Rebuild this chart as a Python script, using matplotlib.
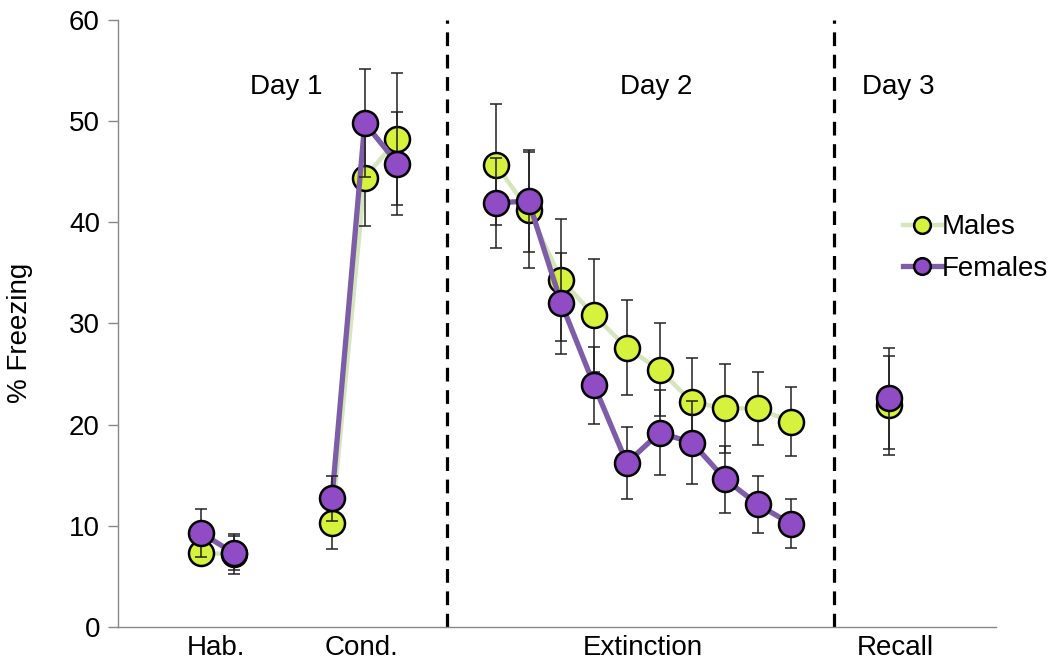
import numpy as np
import matplotlib
matplotlib.use("Agg")
import matplotlib.pyplot as plt
from matplotlib.lines import Line2D

plt.rcParams['font.family'] = ['Liberation Sans', 'DejaVu Sans']

# Trial positions (category slots) for each phase
hab_x = [0, 1]
cond_x = [4, 5, 6]
ext_x = [9, 10, 11, 12, 13, 14, 15, 16, 17, 18]
recall_x = [21]

# % Freezing, males
male_hab = [7.3, 7.2]
male_cond = [10.3, 44.4, 48.2]
male_ext = [45.7, 41.2, 34.3, 30.8, 27.6, 25.4, 22.2, 21.6, 21.6, 20.3]
male_recall = [21.9]
male_hab_err = [1.0, 2.0]
male_cond_err = [2.6, 4.8, 6.5]
male_ext_err = [6.0, 5.7, 6.0, 5.6, 4.7, 4.6, 4.4, 4.4, 3.6, 3.4]
male_recall_err = [4.9]

# % Freezing, females
fem_hab = [9.3, 7.3]
fem_cond = [12.7, 49.8, 45.8]
fem_ext = [41.9, 42.1, 32.0, 23.9, 16.2, 19.2, 18.2, 14.6, 12.1, 10.2]
fem_recall = [22.6]
fem_hab_err = [2.4, 1.7]
fem_cond_err = [2.2, 5.3, 5.1]
fem_ext_err = [4.4, 5.0, 5.0, 3.8, 3.6, 4.2, 4.1, 3.3, 2.8, 2.4]
fem_recall_err = [5.0]

phase_labels = ["Hab.", "Cond.", "Extinction", "Recall"]
phase_label_x = [0.45, 4.9, 13.5, 21.2]
day_labels = ["Day 1", "Day 2", "Day 3"]
day_label_x = [2.6, 13.9, 21.3]
divider_x = [7.52, 19.33]

male_fill = "#d6f23c"
male_line = "#d6e6bc"
fem_fill = "#8f4cc4"
fem_line = "#7d5ca8"

fs = 20

fig = plt.figure(figsize=(10.54, 6.62), dpi=100)
ax = fig.add_axes([0.112, 0.053, 0.833, 0.917])

segments_m = [(hab_x, male_hab, male_hab_err), (cond_x, male_cond, male_cond_err),
              (ext_x, male_ext, male_ext_err), (recall_x, male_recall, male_recall_err)]
segments_f = [(hab_x, fem_hab, fem_hab_err), (cond_x, fem_cond, fem_cond_err),
              (ext_x, fem_ext, fem_ext_err), (recall_x, fem_recall, fem_recall_err)]

ms = 18
for segs, lc, fc, z in [(segments_m, male_line, male_fill, 3), (segments_f, fem_line, fem_fill, 6)]:
    for xs, ys, es in segs:
        ax.plot(xs, ys, color=lc, lw=3.2 if fc == male_fill else 3.8, zorder=z, solid_capstyle='round')
        ax.errorbar(xs, ys, yerr=es, fmt='none', ecolor='#222222', elinewidth=1.1,
                    capsize=4, capthick=1.1, zorder=z + 1)
        ax.plot(xs, ys, ls='none', marker='o', markersize=ms, markerfacecolor=fc,
                markeredgecolor='black', markeredgewidth=1.8, zorder=z + 2)

for dx in divider_x:
    ax.axvline(dx, color='black', lw=2.3, dashes=(4.3, 2.7), zorder=1)

for lab, lx in zip(day_labels, day_label_x):
    ax.text(lx, 53.4, lab, ha='center', va='center', fontsize=fs)

ax.set_xlim(-2.53, 24.27)
ax.set_ylim(0, 60)
ax.set_yticks(range(0, 61, 10))
ax.set_xticks(phase_label_x)
ax.set_xticklabels(phase_labels)
ax.tick_params(axis='x', length=0, pad=6, labelsize=fs)
ax.tick_params(axis='y', length=7, width=1, color='#888888', pad=6, labelsize=fs)
fig.text(20 / 1054, 1 - 333 / 662, "% Freezing", rotation=90, ha='center', va='center', fontsize=fs)

for s in ['top', 'right']:
    ax.spines[s].set_visible(False)
for s in ['left', 'bottom']:
    ax.spines[s].set_color('#888888')
    ax.spines[s].set_linewidth(1)

handles = [
    Line2D([], [], color=male_line, lw=3.2, marker='o', markersize=12,
           markerfacecolor=male_fill, markeredgecolor='black', markeredgewidth=1.8),
    Line2D([], [], color=fem_line, lw=3.8, marker='o', markersize=12,
           markerfacecolor=fem_fill, markeredgecolor='black', markeredgewidth=1.8),
]
fig.legend(handles, ["Males", "Females"], loc='center left',
           bbox_to_anchor=(903 / 1054, 1 - 248 / 662), frameon=False,
           fontsize=fs, handlelength=1.4, handletextpad=0.0, labelspacing=0.55,
           borderpad=0, borderaxespad=0)

fig.savefig("out.png", dpi=100)
